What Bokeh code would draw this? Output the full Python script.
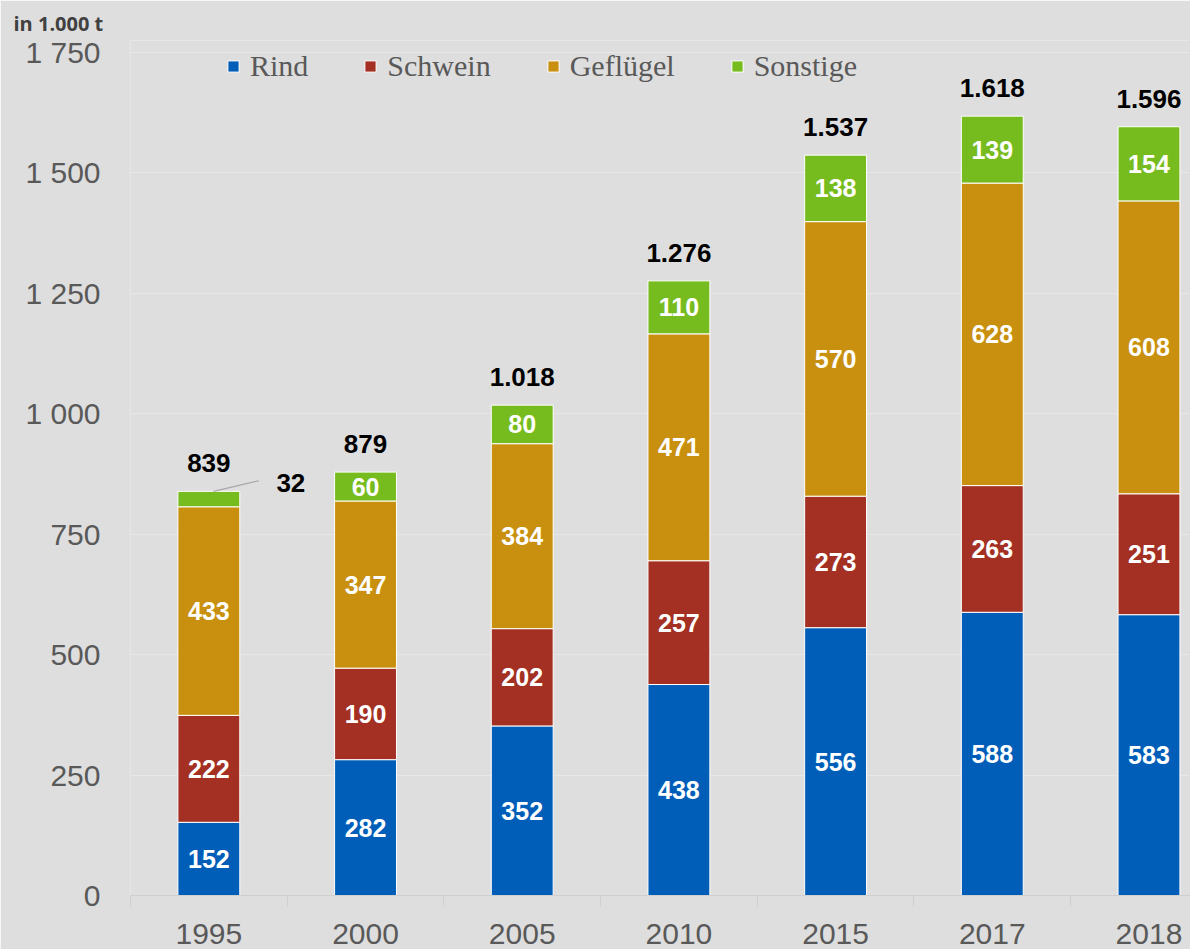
from bokeh.plotting import figure
from bokeh.models import (ColumnDataSource, Range1d, FixedTicker, Label,
                          LabelSet, Legend, LegendItem)
from bokeh.embed import file_html
from bokeh.resources import INLINE
from bokeh.core.properties import value

# ---------------- data ----------------
years = ["1995", "2000", "2005", "2010", "2015", "2017", "2018"]
series = ["Rind", "Schwein", "Geflügel", "Sonstige"]
rind = [152, 282, 352, 438, 556, 588, 583]
schwein = [222, 190, 202, 257, 273, 263, 251]
gefluegel = [433, 347, 384, 471, 570, 628, 608]
sonstige = [32, 60, 80, 110, 138, 139, 154]
totals = [839, 879, 1018, 1276, 1537, 1618, 1596]
total_labels = ["839", "879", "1.018", "1.276", "1.537", "1.618", "1.596"]
y_ticks = [0, 250, 500, 750, 1000, 1250, 1500, 1750]
y_tick_labels = ["0", "250", "500", "750", "1 000", "1 250", "1 500", "1 750"]
unit_label = "in 1.000 t"

colors = ["#005EB8", "#A33022", "#C8900E", "#77BC1F"]
keys = ["rind", "schwein", "gefluegel", "sonstige"]
BG = "#dedede"
GREY = "#595959"

x = [i + 0.5 for i in range(len(years))]
src = ColumnDataSource(dict(x=x, rind=rind, schwein=schwein,
                            gefluegel=gefluegel, sonstige=sonstige,
                            total=totals, tlab=total_labels))

p = figure(width=1190, height=949,
           x_range=Range1d(0, 6.765), y_range=Range1d(0, 1775),
           output_backend="svg", toolbar_location=None,
           min_border_left=130, min_border_right=0,
           min_border_top=40, min_border_bottom=54,
           background_fill_color=BG, border_fill_color=BG,
           outline_line_color=None)

# unit label as left-aligned title above the frame
p.title.text = unit_label
p.title.align = "left"
p.title.offset = -117
p.title.standoff = 8
p.title.text_font = "Open Sans"
p.title.text_font_style = "bold"
p.title.text_font_size = "20px"
p.title.text_color = "#404040"

renderers = p.vbar_stack(keys, x="x", width=0.395, color=colors,
                         line_color="white", line_width=1, source=src)

# segment value labels (positions computed from the data)
lx, ly, lt = [], [], []
bottoms = [0] * len(years)
for vals in [rind, schwein, gefluegel, sonstige]:
    for i, v in enumerate(vals):
        if v >= 50:
            lx.append(x[i])
            ly.append(bottoms[i] + v / 2)
            lt.append(str(v))
        bottoms[i] += v
p.text(x=lx, y=ly, text=lt, text_color="white",
       text_font=value("Liberation Sans"), text_font_style="bold",
       text_font_size="25px", text_align="center", text_baseline="middle")

# totals above the bars
p.add_layout(LabelSet(x="x", y="total", text="tlab", source=src,
                      y_offset=28, text_align="center", text_baseline="middle",
                      text_font=value("Liberation Sans"), text_font_style="bold",
                      text_font_size="26px", text_color="black"))

# small value for 1995 "Sonstige" with leader line
p.segment(x0=[x[0] + 0.03], y0=[totals[0]], x1=[x[0] + 0.32], y1=[totals[0] + 22],
          line_color="#a8a8a8", line_width=1.2)
p.add_layout(Label(x=x[0], y=totals[0], x_offset=82, y_offset=8,
                   text=str(sonstige[0]), text_align="center", text_baseline="middle",
                   text_font="Liberation Sans", text_font_style="bold",
                   text_font_size="26px", text_color="black"))

# legend
legend = Legend(items=[LegendItem(label=s, renderers=[r]) for s, r in zip(series, renderers)],
                orientation="horizontal", location=(96, 812),
                glyph_width=14, glyph_height=14, label_standoff=10, spacing=55,
                padding=0, margin=0, border_line_color=None,
                background_fill_alpha=0,
                label_text_font="Liberation Serif", label_text_font_size="30px",
                label_text_color=GREY)
p.add_layout(legend)

# x axis: labels at bar centres, tick marks at category boundaries
p.xaxis.ticker = FixedTicker(ticks=x, minor_ticks=list(range(len(years) + 1)))
p.xaxis.major_label_overrides = {xi: y for xi, y in zip(x, years)}
p.xaxis.major_tick_out = 0
p.xaxis.major_tick_in = 0
p.xaxis.minor_tick_out = 11
p.xaxis.minor_tick_in = 0
p.xaxis.minor_tick_line_color = "#cfcfcf"
p.xaxis.axis_line_color = "#cfcfcf"
p.xaxis.major_label_standoff = 17
p.xaxis.major_label_text_font = "Liberation Sans"
p.xaxis.major_label_text_font_size = "30px"
p.xaxis.major_label_text_color = GREY

# y axis
p.yaxis.ticker = FixedTicker(ticks=y_ticks)
p.yaxis.major_label_overrides = {t: l for t, l in zip(y_ticks, y_tick_labels)}
p.yaxis.axis_line_color = None
p.yaxis.major_tick_line_color = None
p.yaxis.minor_tick_line_color = None
p.yaxis.major_tick_out = 0
p.yaxis.major_tick_in = 0
p.yaxis.major_label_standoff = 30
p.yaxis.major_label_text_font = "Liberation Sans"
p.yaxis.major_label_text_font_size = "30px"
p.yaxis.major_label_text_color = GREY

p.xgrid.grid_line_color = None
p.ygrid.ticker = FixedTicker(ticks=y_ticks)
p.ygrid.grid_line_color = "#e7e7e7"

open("out.html", "w").write(file_html(p, INLINE))
